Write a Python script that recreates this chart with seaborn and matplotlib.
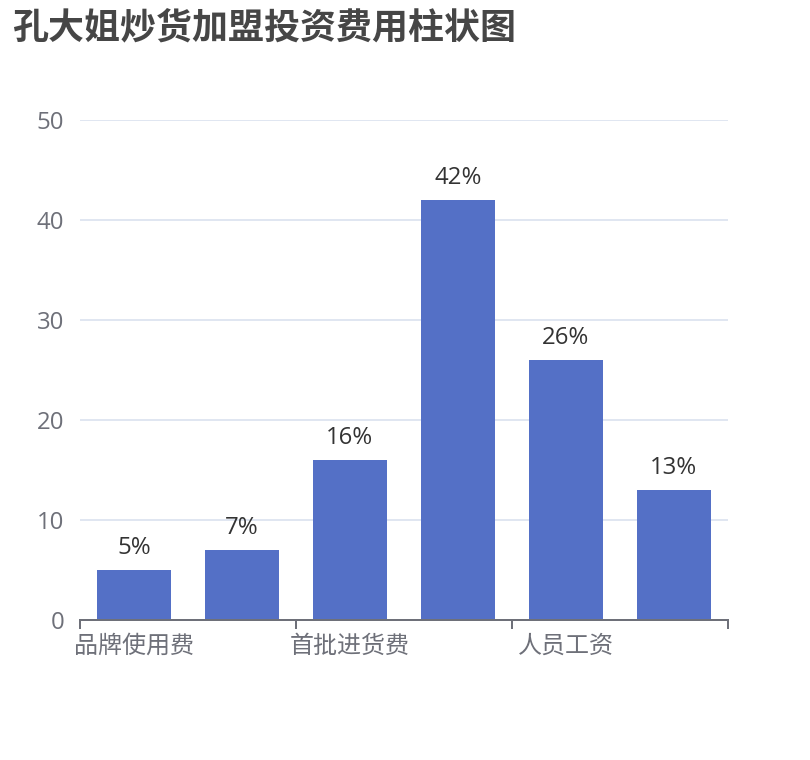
import matplotlib
matplotlib.use("Agg")
import matplotlib.pyplot as plt
import seaborn as sns
import pandas as pd

categories = ["品牌使用费", "装修费用", "首批进货费", "店面租金", "人员工资", "其他费用"]
values = [5, 7, 16, 42, 26, 13]
bar_labels = ["5%", "7%", "16%", "42%", "26%", "13%"]
title = "孔大姐炒货加盟投资费用柱状图"

sns.set_theme(style="white")
plt.rcParams["font.family"] = ["Noto Sans CJK SC", "DejaVu Sans"]
num_family = ["Open Sans", "Noto Sans CJK SC"]

df = pd.DataFrame({"cat": categories, "val": values})

fig = plt.figure(figsize=(8.1, 7.6), dpi=100)
ax = fig.add_axes([80/810, 1-620/760, 648/810, 500/760])

sns.barplot(data=df, x="cat", y="val", ax=ax, color="#5470C6", saturation=1,
            width=0.69, zorder=3, linewidth=0)

ax.set_xlim(-0.5, len(categories) - 0.5)
ax.set_ylim(0, 50)
ax.set_yticks([0, 10, 20, 30, 40, 50])
ax.yaxis.grid(True, color="#E0E6F1", linewidth=1.44, zorder=0)
ax.xaxis.grid(False)
ax.set_axisbelow(True)

for s in ["top", "right", "left"]:
    ax.spines[s].set_visible(False)
ax.spines["bottom"].set_color("#6E7079")
ax.spines["bottom"].set_linewidth(1.44)
ax.spines["bottom"].set_zorder(4)

# boundary ticks every two categories, labels on every other category
ax.set_xticks([-0.5, 1.5, 3.5, 5.5])
ax.set_xticklabels([])
ax.set_xticks([0, 2, 4], minor=True)
ax.set_xticklabels([categories[i] for i in [0, 2, 4]], minor=True)
ax.tick_params(axis="x", which="major", length=6.5, width=1.44, color="#6E7079", bottom=True)
ax.tick_params(axis="x", which="minor", length=0, pad=9, labelsize=17.3, labelcolor="#6E7079")
ax.tick_params(axis="y", length=0, pad=11.5, labelsize=17.3, labelcolor="#6E7079")
for lab in ax.get_yticklabels():
    lab.set_fontfamily(num_family)
ax.set_xlabel("")
ax.set_ylabel("")

for cont in ax.containers:
    texts = ax.bar_label(cont, labels=bar_labels, padding=7, fontsize=17.3, color="#333333")
    for t in texts:
        t.set_fontfamily(num_family)

fig.text(12/810, 1-10/760, title, fontsize=25.9, fontweight="bold", color="#464646",
         ha="left", va="top")

fig.savefig("out.png", dpi=100)
